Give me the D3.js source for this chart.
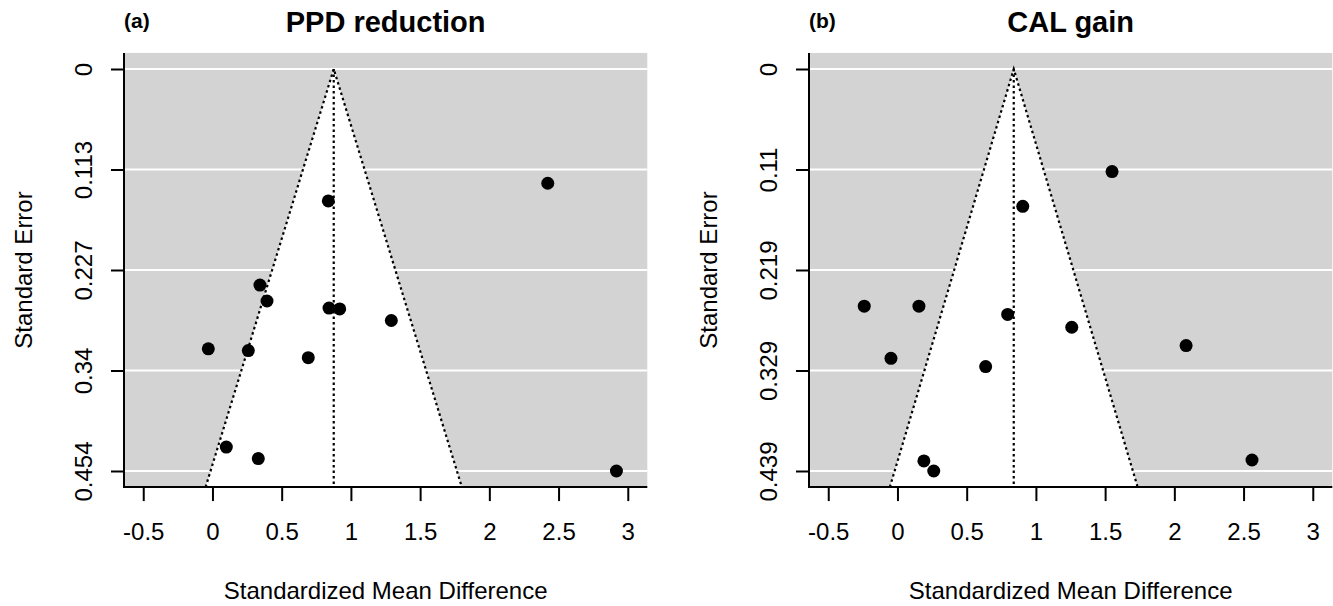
<!DOCTYPE html>
<html>
<head>
<meta charset="utf-8">
<style>
  body { margin: 0; background: #fff; }
  svg text { font-family: "Liberation Sans", Arial, sans-serif; fill: #000; }
</style>
</head>
<body>
<svg width="1333" height="606"></svg>
<script src="https://cdn.jsdelivr.net/npm/d3@7/dist/d3.min.js"></script>
<script>
// (a) PPD reduction
const ppdSmd = [0.837, 2.422, 0.343, 0.394, 0.842, 0.919, -0.030, 0.259, 0.692, 1.292, 0.100, 0.331, 2.918];
const ppdSe  = [0.149, 0.129, 0.244, 0.262, 0.270, 0.271, 0.316, 0.318, 0.326, 0.284, 0.427, 0.440, 0.454];
const ppdCentre = 0.876;
const ppdSeTicks = [0, 0.1135, 0.227, 0.3405, 0.454];
const ppdSeLabels = ['0', '0.113', '0.227', '0.34', '0.454'];

// (b) CAL gain
const calSmd = [0.905, 1.550, -0.240, 0.155, 0.796, -0.047, 0.637, 0.191, 0.262, 1.259, 2.085, 2.561];
const calSe  = [0.150, 0.112, 0.259, 0.259, 0.268, 0.316, 0.325, 0.428, 0.439, 0.282, 0.302, 0.427];
const calCentre = 0.840;
const calSeTicks = [0, 0.10975, 0.2195, 0.32925, 0.439];
const calSeLabels = ['0', '0.11', '0.219', '0.329', '0.439'];

const smdTicks = [-0.5, 0, 0.5, 1, 1.5, 2, 2.5, 3];
const smdDomain = [-0.639, 3.141];

const svg = d3.select('svg');

const panels = [
    {tag: '(a)', title: 'PPD reduction', smd: ppdSmd, se: ppdSe, centre: ppdCentre,
     ticks: ppdSeTicks, labels: ppdSeLabels, left: 124},
    {tag: '(b)', title: 'CAL gain', smd: calSmd, se: calSe, centre: calCentre,
     ticks: calSeTicks, labels: calSeLabels, left: 809}
];

const plotW = 523.3;
const yTop = 69, yBottom = 471;   // pixel positions of se = 0 and se = max

panels.forEach(p => {
    const seMax = p.ticks[p.ticks.length - 1];
    const x = d3.scaleLinear().domain(smdDomain).range([p.left, p.left + plotW]);
    const y = d3.scaleLinear().domain([0, seMax]).range([yTop, yBottom]);
    const seLo = -0.04 * seMax, seHi = 1.04 * seMax;
    const top = y(seLo), bottom = y(seHi);
    const right = p.left + plotW;

    const g = svg.append('g');

    // grey background
    g.append('rect')
        .attr('x', p.left).attr('y', top)
        .attr('width', plotW).attr('height', bottom - top)
        .attr('fill', '#d3d3d3');

    // white reference lines
    g.selectAll('.grid').data(p.ticks).enter().append('line')
        .attr('x1', p.left).attr('x2', right)
        .attr('y1', d => y(d)).attr('y2', d => y(d))
        .attr('stroke', '#fff').attr('stroke-width', 2);

    // funnel region
    const funnel = [[p.centre - 1.96 * seHi, seHi], [p.centre, 0], [p.centre + 1.96 * seHi, seHi]];
    const line = d3.line().x(d => x(d[0])).y(d => y(d[1]));
    g.append('path')
        .attr('d', line(funnel) + 'Z')
        .attr('fill', '#fff');
    g.append('path')
        .attr('d', line(funnel))
        .attr('fill', 'none').attr('stroke', '#000')
        .attr('stroke-width', 2.2).attr('stroke-dasharray', '2.5,3');
    g.append('line')
        .attr('x1', x(p.centre)).attr('x2', x(p.centre))
        .attr('y1', y(0)).attr('y2', bottom)
        .attr('stroke', '#000').attr('stroke-width', 2.2).attr('stroke-dasharray', '2.5,3');

    // studies
    g.selectAll('.pt').data(p.smd).enter().append('circle')
        .attr('cx', d => x(d))
        .attr('cy', (d, i) => y(p.se[i]))
        .attr('r', 6.5)
        .attr('fill', '#000');

    // L-shaped box
    g.append('path')
        .attr('d', `M${p.left},${top}V${bottom}H${right}`)
        .attr('fill', 'none').attr('stroke', '#000').attr('stroke-width', 2);

    // x axis
    const xAxis = g.append('g')
        .attr('transform', `translate(0,${bottom})`)
        .call(d3.axisBottom(x).tickValues(smdTicks).tickFormat(d => String(d)).tickSize(14).tickSizeOuter(0));
    xAxis.select('.domain').remove();
    xAxis.selectAll('line').attr('stroke', '#000').attr('stroke-width', 2);
    xAxis.selectAll('text').attr('y', 53).attr('dy', 0)
        .style('font-size', '24px').style('font-family', '"Liberation Sans", Arial, sans-serif');

    // y axis
    const yAxis = g.append('g')
        .attr('transform', `translate(${p.left},0)`)
        .call(d3.axisLeft(y).tickValues(p.ticks).tickFormat((d, i) => p.labels[i]).tickSize(13).tickSizeOuter(0));
    yAxis.select('.domain').remove();
    yAxis.selectAll('line').attr('stroke', '#000').attr('stroke-width', 2);
    yAxis.selectAll('text')
        .attr('x', null).attr('dy', 0)
        .attr('text-anchor', 'middle')
        .attr('transform', 'translate(-32,0) rotate(-90)')
        .style('font-size', '24px').style('font-family', '"Liberation Sans", Arial, sans-serif');

    // axis titles
    g.append('text')
        .attr('x', (p.left + right) / 2).attr('y', 599)
        .attr('text-anchor', 'middle')
        .style('font-size', '24px')
        .text('Standardized Mean Difference');
    g.append('text')
        .attr('transform', `translate(${p.left - 92},${(top + bottom) / 2}) rotate(-90)`)
        .attr('text-anchor', 'middle')
        .style('font-size', '24px')
        .text('Standard Error');

    // titles
    g.append('text')
        .attr('x', (p.left + right) / 2).attr('y', 32)
        .attr('text-anchor', 'middle')
        .style('font-size', '29px').style('font-weight', 'bold')
        .text(p.title);
    g.append('text')
        .attr('x', p.left).attr('y', 27.5)
        .style('font-size', '21px').style('font-weight', 'bold')
        .text(p.tag);
});
</script>
</body>
</html>
